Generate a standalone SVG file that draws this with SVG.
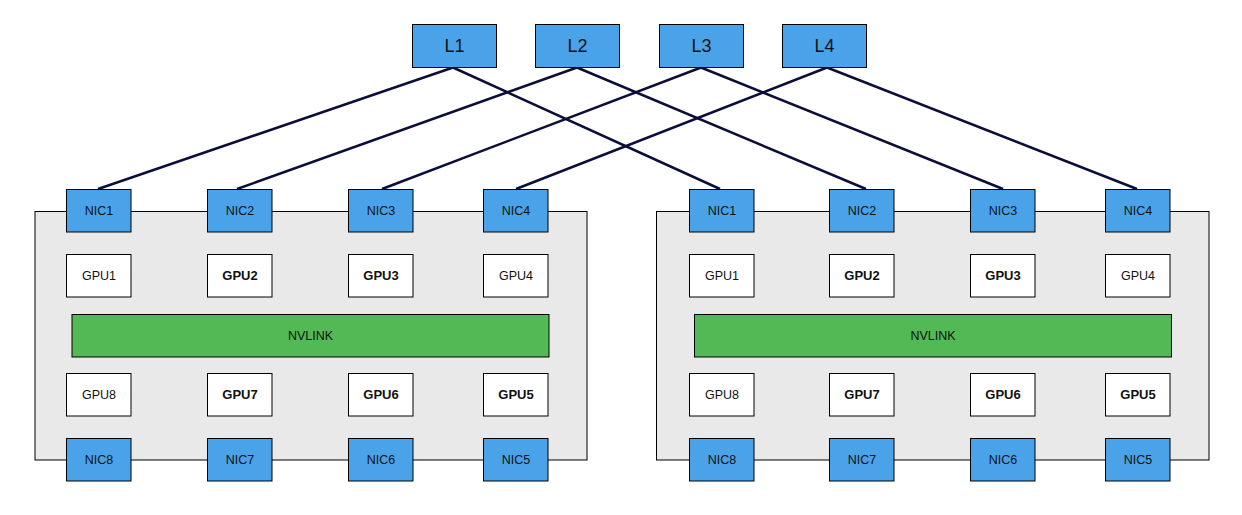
<svg xmlns="http://www.w3.org/2000/svg" width="1242" height="515" viewBox="0 0 1242 515">
<style>
.bg{fill:#ffffff}
.server{fill:#e9e9e9;stroke:#000;stroke-width:1}
.nic{fill:#4aa3e8;stroke:#000;stroke-width:1}
.gpu{fill:#ffffff;stroke:#000;stroke-width:1}
.nvl{fill:#52b955;stroke:#000;stroke-width:1}
.t{font-family:"Liberation Sans",Arial,Helvetica,sans-serif;font-size:12.5px;fill:#111;text-anchor:middle;dominant-baseline:central}
.b{font-weight:bold;font-size:13px}
.lt{font-size:18px}
.link{stroke:#0d0d3a;stroke-width:2.5;fill:none}
</style>
<rect class="bg" x="0" y="0" width="1242" height="515"/>

<g id="server-left">
<rect class="server" x="35" y="211.5" width="552" height="248.5"/>
<g id="left-nvlink"><rect class="nvl" x="72" y="314.5" width="477" height="42.5"/><text class="t" x="310.5" y="335.5">NVLINK</text></g>
<g id="left-gpu1"><rect class="gpu" x="66.5" y="254.5" width="64.5" height="42.5"/><text class="t" x="99" y="275.5">GPU1</text></g>
<g id="left-gpu2"><rect class="gpu" x="207.5" y="254.5" width="64.5" height="42.5"/><text class="t b" x="240" y="275">GPU2</text></g>
<g id="left-gpu3"><rect class="gpu" x="348.5" y="254.5" width="64.5" height="42.5"/><text class="t b" x="381" y="275">GPU3</text></g>
<g id="left-gpu4"><rect class="gpu" x="483.5" y="254.5" width="64.5" height="42.5"/><text class="t" x="516" y="275.5">GPU4</text></g>
<g id="left-gpu8"><rect class="gpu" x="66.5" y="373.5" width="64.5" height="42.5"/><text class="t" x="99" y="394.5">GPU8</text></g>
<g id="left-gpu7"><rect class="gpu" x="207.5" y="373.5" width="64.5" height="42.5"/><text class="t b" x="240" y="394">GPU7</text></g>
<g id="left-gpu6"><rect class="gpu" x="348.5" y="373.5" width="64.5" height="42.5"/><text class="t b" x="381" y="394">GPU6</text></g>
<g id="left-gpu5"><rect class="gpu" x="483.5" y="373.5" width="64.5" height="42.5"/><text class="t b" x="516" y="394">GPU5</text></g>
<g id="left-nic1"><rect class="nic" x="66.5" y="189.5" width="64.5" height="42.5"/><text class="t" x="99" y="211">NIC1</text></g>
<g id="left-nic2"><rect class="nic" x="207.5" y="189.5" width="64.5" height="42.5"/><text class="t" x="240" y="211">NIC2</text></g>
<g id="left-nic3"><rect class="nic" x="348.5" y="189.5" width="64.5" height="42.5"/><text class="t" x="381" y="211">NIC3</text></g>
<g id="left-nic4"><rect class="nic" x="483.5" y="189.5" width="64.5" height="42.5"/><text class="t" x="516" y="211">NIC4</text></g>
<g id="left-nic8"><rect class="nic" x="66.5" y="438.5" width="64.5" height="42.5"/><text class="t" x="99" y="460">NIC8</text></g>
<g id="left-nic7"><rect class="nic" x="207.5" y="438.5" width="64.5" height="42.5"/><text class="t" x="240" y="460">NIC7</text></g>
<g id="left-nic6"><rect class="nic" x="348.5" y="438.5" width="64.5" height="42.5"/><text class="t" x="381" y="460">NIC6</text></g>
<g id="left-nic5"><rect class="nic" x="483.5" y="438.5" width="64.5" height="42.5"/><text class="t" x="516" y="460">NIC5</text></g>
</g>

<g id="server-right">
<rect class="server" x="656.5" y="211.5" width="552.5" height="248.5"/>
<g id="right-nvlink"><rect class="nvl" x="694.5" y="314.5" width="477" height="42.5"/><text class="t" x="933" y="335.5">NVLINK</text></g>
<g id="right-gpu1"><rect class="gpu" x="689.5" y="254.5" width="64.5" height="42.5"/><text class="t" x="722" y="275.5">GPU1</text></g>
<g id="right-gpu2"><rect class="gpu" x="829.5" y="254.5" width="64.5" height="42.5"/><text class="t b" x="862" y="275">GPU2</text></g>
<g id="right-gpu3"><rect class="gpu" x="970.5" y="254.5" width="64.5" height="42.5"/><text class="t b" x="1003" y="275">GPU3</text></g>
<g id="right-gpu4"><rect class="gpu" x="1105.5" y="254.5" width="64.5" height="42.5"/><text class="t" x="1138" y="275.5">GPU4</text></g>
<g id="right-gpu8"><rect class="gpu" x="689.5" y="373.5" width="64.5" height="42.5"/><text class="t" x="722" y="394.5">GPU8</text></g>
<g id="right-gpu7"><rect class="gpu" x="829.5" y="373.5" width="64.5" height="42.5"/><text class="t b" x="862" y="394">GPU7</text></g>
<g id="right-gpu6"><rect class="gpu" x="970.5" y="373.5" width="64.5" height="42.5"/><text class="t b" x="1003" y="394">GPU6</text></g>
<g id="right-gpu5"><rect class="gpu" x="1105.5" y="373.5" width="64.5" height="42.5"/><text class="t b" x="1138" y="394">GPU5</text></g>
<g id="right-nic1"><rect class="nic" x="689.5" y="189.5" width="64.5" height="42.5"/><text class="t" x="722" y="211">NIC1</text></g>
<g id="right-nic2"><rect class="nic" x="829.5" y="189.5" width="64.5" height="42.5"/><text class="t" x="862" y="211">NIC2</text></g>
<g id="right-nic3"><rect class="nic" x="970.5" y="189.5" width="64.5" height="42.5"/><text class="t" x="1003" y="211">NIC3</text></g>
<g id="right-nic4"><rect class="nic" x="1105.5" y="189.5" width="64.5" height="42.5"/><text class="t" x="1138" y="211">NIC4</text></g>
<g id="right-nic8"><rect class="nic" x="689.5" y="438.5" width="64.5" height="42.5"/><text class="t" x="722" y="460">NIC8</text></g>
<g id="right-nic7"><rect class="nic" x="829.5" y="438.5" width="64.5" height="42.5"/><text class="t" x="862" y="460">NIC7</text></g>
<g id="right-nic6"><rect class="nic" x="970.5" y="438.5" width="64.5" height="42.5"/><text class="t" x="1003" y="460">NIC6</text></g>
<g id="right-nic5"><rect class="nic" x="1105.5" y="438.5" width="64.5" height="42.5"/><text class="t" x="1138" y="460">NIC5</text></g>
</g>

<g id="connectors">
<line class="link" x1="453" y1="67.5" x2="98" y2="189"/>
<line class="link" x1="453" y1="67.5" x2="720" y2="189"/>
<line class="link" x1="577" y1="67.5" x2="237" y2="189"/>
<line class="link" x1="577" y1="67.5" x2="866" y2="189"/>
<line class="link" x1="701" y1="67.5" x2="382" y2="189"/>
<line class="link" x1="701" y1="67.5" x2="1003" y2="189"/>
<line class="link" x1="827" y1="67.5" x2="516" y2="189"/>
<line class="link" x1="827" y1="67.5" x2="1137" y2="189"/>
</g>

<g id="L1"><rect class="nic" x="412.5" y="24.5" width="84" height="43"/><text class="t lt" x="454.5" y="46">L1</text></g>
<g id="L2"><rect class="nic" x="535.5" y="24.5" width="84" height="43"/><text class="t lt" x="577.5" y="46">L2</text></g>
<g id="L3"><rect class="nic" x="659.5" y="24.5" width="84" height="43"/><text class="t lt" x="701.5" y="46">L3</text></g>
<g id="L4"><rect class="nic" x="782.5" y="24.5" width="84" height="43"/><text class="t lt" x="824.5" y="46">L4</text></g>
</svg>
